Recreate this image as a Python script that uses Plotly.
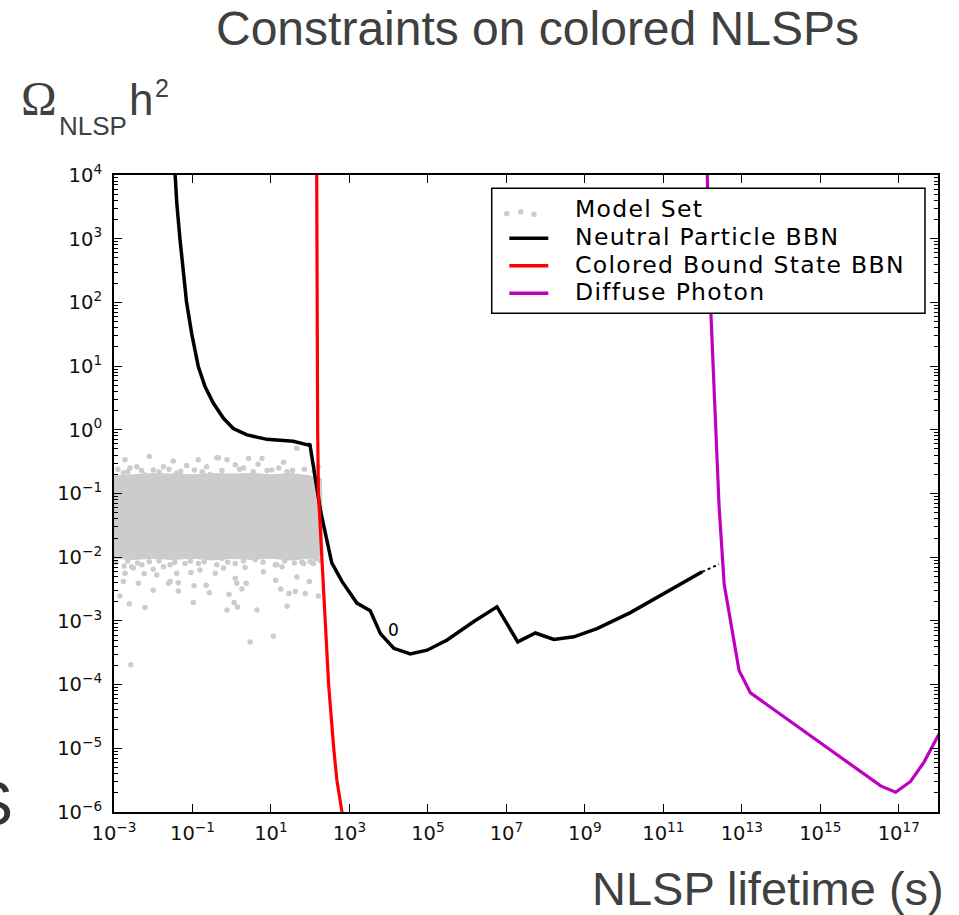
import plotly.graph_objects as go

W, H = 959, 915

# ---- Data (log10 of lifetime in s, log10 of Omega h^2) ----
# Neutral particle BBN bound
bbn_logtau = [-1.46, -1.44, -1.40, -1.32, -1.23, -1.15, -1.02, -0.85, -0.68, -0.47, -0.21,
              0.04, 0.39, 0.90, 1.57, 1.96,
              1.99, 2.17, 2.26, 2.55, 2.81, 3.19, 3.53, 3.79, 4.13, 4.55, 4.98, 5.49, 6.17,
              6.76, 7.29, 7.74, 8.21, 8.72, 9.31, 10.16, 11.01, 11.99]
bbn_logomega = [4.2, 4.0, 3.56, 3.0, 2.51, 2.0, 1.51, 0.99, 0.68, 0.42, 0.18,
                0.02, -0.08, -0.15, -0.18, -0.24,
                -0.22, -0.94, -1.26, -2.09, -2.38, -2.72, -2.84, -3.20, -3.43, -3.52, -3.46,
                -3.30, -3.01, -2.78, -3.33, -3.19, -3.29, -3.25, -3.12, -2.87, -2.57, -2.23]
# dotted continuation of the BBN bound
bbn_ext_logtau = [11.99, 12.42]
bbn_ext_logomega = [-2.23, -2.11]

# Colored bound state BBN bound
colored_logtau = [2.165, 2.17, 2.19, 2.21, 2.30, 2.38, 2.47, 2.60, 2.68, 2.81, 2.83]
colored_logomega = [4.2, 2.0, 0.0, -1.0, -2.0, -3.0, -4.0, -5.0, -5.5, -6.0, -6.1]

# Diffuse photon bound
photon_logtau = [12.10, 12.12, 12.20, 12.29, 12.42, 12.55, 12.67, 12.93, 13.22, 16.54,
                 16.92, 17.30, 17.64, 18.03]
photon_logomega = [4.2, 4.0, 2.01, 0.71, -1.19, -2.42, -2.86, -3.78, -4.13, -5.59,
                   -5.69, -5.52, -5.22, -4.77]

# Model set: dense core region of the scan
core_logtau = [-3.0, -2.5, -2.0, -1.5, -1.0, -0.5, 0.0, 0.5, 1.0, 1.5, 2.0, 2.26,
               2.28, 2.30, 2.0, 1.5, 1.0, 0.5, 0.0, -0.5, -1.0, -1.5, -2.0, -2.5, -3.0]
core_logomega = [-0.74, -0.72, -0.70, -0.71, -0.72, -0.70, -0.71, -0.70, -0.72, -0.70,
                 -0.74, -0.78, -1.50, -1.98, -2.00, -2.03, -2.00, -2.02, -2.00, -2.03,
                 -2.00, -2.02, -2.00, -2.02, -2.00]
# Model set: individual points outside the core
pts_logtau = [-2.85, -2.61, -2.57, -2.21, -2.76, -2.72, -2.38, -2.23, -2.00, -2.00, -1.91,
              -1.57, -1.61, -1.36, -1.36, -1.40, -1.04, -0.98, -0.96, -0.81, -0.65, -0.57,
              -0.42, -0.12, -0.07, 0.06, 0.15, 0.09, 0.13, 0.26, 0.37, 0.34, 0.47, 0.64,
              0.81, 1.06, 1.12, 1.25, 1.28, 1.41, 1.46, 1.62, 1.66, 1.87, 1.98, 2.08, 2.21,
              -2.74, -2.51, -2.29, -1.74, -1.19, -0.38, -0.21, 1.15, 1.83,
              -2.72, -2.10, -1.49, -0.85, -0.38, -2.59, -2.42, -2.00, -1.74, -1.15, -0.64,
              -2.76, -2.21, -1.40, -0.55, -2.55, -1.57, -0.85,
              -0.34, -0.12, 0.43, 0.77, 1.32, 0.09, 0.67, 1.02, 1.66, 1.41, 0.30,
              -0.25, 0.09, 0.60, 1.11, 1.79, 2.13,
              -2.90, -2.65, -2.30, -1.85, -1.60, -1.30, -0.95, -0.75, -0.25, 0.20, 0.55,
              0.90, 1.20, 1.55, 1.85, 2.10, 2.20,
              -2.95, -2.65, -2.40, -2.10, -1.85, -1.45, -1.05, -0.70, -0.10, 0.30, 0.80,
              1.35, 1.60, 2.00, 2.25]
pts_logomega = [-2.61, -2.73, -3.69, -2.79, -2.38, -2.25, -2.41, -2.26, -2.19, -2.52, -2.28,
                -2.38, -2.41, -2.53, -2.40, -2.25, -2.24, -2.71, -2.45, -2.20, -2.44, -2.56,
                -2.25, -2.83, -2.58, -2.71, -2.78, -2.33, -2.41, -2.50, -2.41, -2.16, -3.33,
                -2.83, -2.23, -3.24, -2.36, -2.50, -2.15, -2.77, -2.57, -2.54, -2.31, -2.57,
                -2.38, -2.10, -2.61,
                -2.14, -2.17, -2.12, -2.15, -2.10, -2.12, -2.17, -2.12, -2.10,
                -0.47, -0.42, -0.49, -0.47, -0.44, -0.60, -0.58, -0.63, -0.58, -0.56, -0.58,
                -0.68, -0.71, -0.68, -0.70, -2.15, -2.12, -2.10,
                -0.44, -0.47, -0.45, -0.45, -0.51, -0.55, -0.54, -0.63, -0.29, -0.66, -0.60,
                -2.02, -2.10, -2.04, -2.12, -2.08, -2.02,
                -0.62, -0.66, -0.64, -0.66, -0.62, -0.65, -0.63, -0.66, -0.64, -0.62, -0.66,
                -0.64, -0.60, -0.64, -0.62, -0.66, -0.58,
                -2.08, -2.06, -2.09, -2.07, -2.06, -2.08, -2.06, -2.07, -2.08, -2.06, -2.08,
                -2.06, -2.09, -2.07, -2.05]

x_tick_exps = [-3, -1, 1, 3, 5, 7, 9, 11, 13, 15, 17]
y_tick_exps = [-6, -5, -4, -3, -2, -1, 0, 1, 2, 3, 4]

legend_labels = ["Model Set", "Neutral Particle BBN", "Colored Bound State BBN",
                 "Diffuse Photon"]


def lin(vals):
    return [10 ** v for v in vals]


def sup_label(e):
    s = str(e).replace("-", "\u2212")
    return "10<sup>%s</sup>" % s


def px(x):
    return x / W


def py(y):
    return 1 - y / H


GRAY = "#cccccc"
BLACK = "#000000"
RED = "#ff0000"
MAGENTA = "#bf00bf"
TEXT = "#404040"

fig = go.Figure()

fig.add_trace(go.Scatter(
    x=lin(core_logtau), y=lin(core_logomega), mode="lines", fill="toself",
    fillcolor=GRAY, line=dict(color=GRAY, width=3), hoverinfo="skip", showlegend=False))
fig.add_trace(go.Scatter(
    x=lin(pts_logtau), y=lin(pts_logomega), mode="markers", name=legend_labels[0],
    marker=dict(color=GRAY, size=5.5, line=dict(width=0)), showlegend=False))
fig.add_trace(go.Scatter(
    x=lin(bbn_logtau), y=lin(bbn_logomega), mode="lines", name=legend_labels[1],
    line=dict(color=BLACK, width=3.5), showlegend=False))
fig.add_trace(go.Scatter(
    x=lin(bbn_ext_logtau), y=lin(bbn_ext_logomega), mode="lines",
    line=dict(color=BLACK, width=2, dash="dot"), showlegend=False, hoverinfo="skip"))
fig.add_trace(go.Scatter(
    x=lin(colored_logtau), y=lin(colored_logomega), mode="lines",
    name=legend_labels[2], line=dict(color=RED, width=3.2), showlegend=False))
fig.add_trace(go.Scatter(
    x=lin(photon_logtau), y=lin(photon_logomega), mode="lines", name=legend_labels[3],
    line=dict(color=MAGENTA, width=3.2), showlegend=False))

y_minor = [m * 10 ** k for k in range(-6, 4) for m in range(2, 10)]

axis_common = dict(
    type="log", showgrid=False, zeroline=False, showline=True, linecolor="black",
    linewidth=2, mirror="allticks", ticks="inside", ticklen=8, tickwidth=1.3,
    tickcolor="black", tickmode="array", automargin=False,
    tickfont=dict(family="DejaVu Sans", size=19.5, color="#111111"),
)

fig.update_xaxes(
    **axis_common, range=[-3, 18],
    domain=[px(114), px(938)],
    tickvals=lin(x_tick_exps), ticktext=[sup_label(e) for e in x_tick_exps],
    ticklabelstandoff=3,
)
fig.update_yaxes(
    **axis_common, range=[-6, 4],
    domain=[py(812), py(175)],
    tickvals=lin(y_tick_exps), ticktext=[sup_label(e) for e in y_tick_exps],
    ticklabelstandoff=6,
    minor=dict(tickmode="array", tickvals=y_minor, ticks="inside", ticklen=4,
               tickwidth=1.1, tickcolor="black", showgrid=False),
)

# Legend box drawn in figure pixels
shapes = [dict(type="rect", xref="paper", yref="paper", x0=px(491.7), x1=px(925),
               y0=py(313.3), y1=py(188.3), line=dict(color="black", width=1.5),
               fillcolor="white", layer="above")]
for cx, cy in [(506.7, 213.7), (520.7, 211.7), (534.0, 214.3)]:
    r = 2.8
    shapes.append(dict(type="circle", xref="paper", yref="paper", x0=px(cx - r),
                       x1=px(cx + r), y0=py(cy + r), y1=py(cy - r),
                       line=dict(width=0), fillcolor=GRAY, layer="above"))
for col, yy in [(BLACK, 238.3), (RED, 265.7), (MAGENTA, 293.3)]:
    shapes.append(dict(type="line", xref="paper", yref="paper", x0=px(509.3),
                       x1=px(548.3), y0=py(yy), y1=py(yy),
                       line=dict(color=col, width=3.5), layer="above"))

annotations = []
for label, cy in zip(legend_labels, [209.4, 237.0, 264.6, 292.2]):
    annotations.append(dict(
        text='<span style="letter-spacing:1.3px">%s</span>' % label,
        xref="paper", yref="paper", x=px(574), y=py(cy), xanchor="left",
        yanchor="middle", showarrow=False, borderpad=0,
        font=dict(family="DejaVu Sans", size=23.5, color="black")))

# Contour-style label on the BBN curve
annotations.append(dict(text="0", xref="x", yref="y", x=4.12, y=-3.15, showarrow=False,
                        xanchor="center", yanchor="middle",
                        font=dict(family="DejaVu Sans", size=17, color="black")))

# Titles and axis labels
annotations += [
    dict(text="Constraints on colored NLSPs", xref="paper", yref="paper", x=px(537),
         y=py(28.4), xanchor="center", yanchor="middle", showarrow=False,
         font=dict(family="Liberation Sans", size=48, color=TEXT)),
    dict(text="NLSP lifetime (s)", xref="paper", yref="paper", x=px(945), y=py(888),
         xanchor="right", yanchor="middle", showarrow=False, borderpad=0,
         font=dict(family="Liberation Sans", size=47, color=TEXT)),
    dict(text="\u03a9", xref="paper", yref="paper", x=px(19), y=py(98.8),
         xanchor="left", yanchor="middle", showarrow=False,
         font=dict(family="Liberation Serif", size=48, color=TEXT)),
    dict(text="NLSP", xref="paper", yref="paper", x=px(57), y=py(126),
         xanchor="left", yanchor="middle", showarrow=False,
         font=dict(family="Liberation Sans", size=26, color=TEXT)),
    dict(text="h", xref="paper", yref="paper", x=px(127), y=py(99.8),
         xanchor="left", yanchor="middle", showarrow=False,
         font=dict(family="Liberation Sans", size=44, color=TEXT)),
    dict(text="2", xref="paper", yref="paper", x=px(153), y=py(88.3),
         xanchor="left", yanchor="middle", showarrow=False,
         font=dict(family="Liberation Sans", size=25, color=TEXT)),
    dict(text="S", xref="paper", yref="paper", x=px(15), y=py(803),
         xanchor="right", yanchor="middle", showarrow=False,
         font=dict(family="Liberation Sans", size=63, color="#333333")),
]

fig.update_layout(
    width=W, height=H, margin=dict(l=0, r=0, t=0, b=0),
    paper_bgcolor="white", plot_bgcolor="white",
    shapes=shapes, annotations=annotations, showlegend=False,
)

fig.write_html("out.html")
